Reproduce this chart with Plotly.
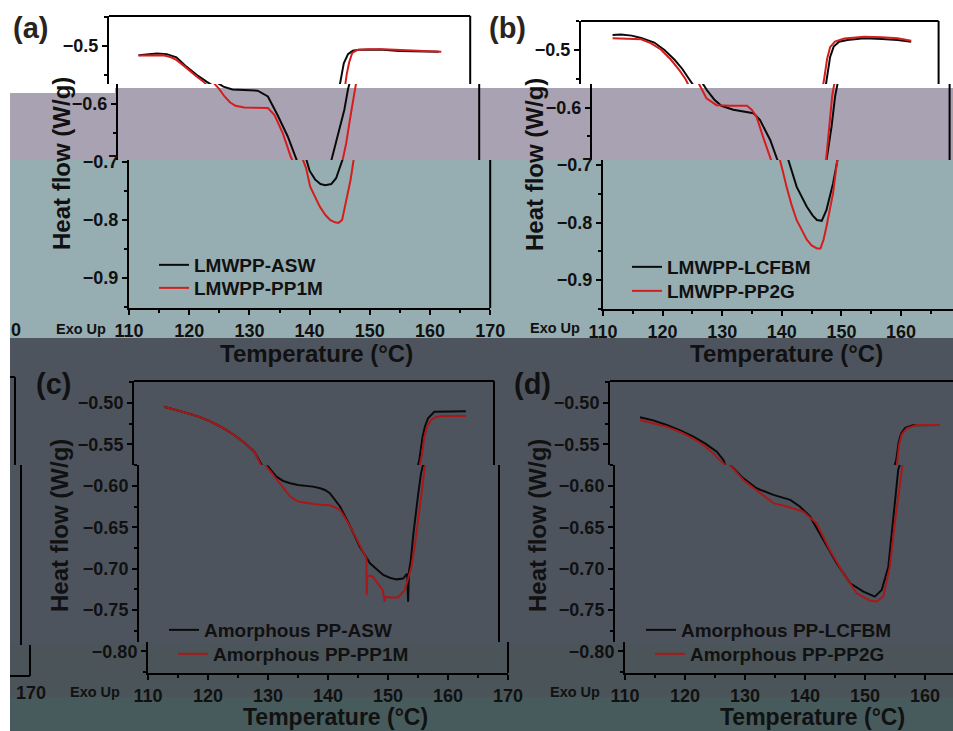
import plotly.graph_objects as go

W, H = 953, 731
FONT = "Liberation Sans, Arial, Helvetica, sans-serif"

# ---------------- data (temperature in degC, heat flow in W/g) ----------------
a_asw_T = [114.9, 116.5, 118.0, 119.6, 121.2, 122.9, 124.6, 126.2, 127.5, 129.0, 131.0, 133.2,
           134.9, 136.5, 138.2, 139.3, 140.0, 140.9, 141.8, 142.6, 143.6, 144.4, 145.0, 145.5,
           146.5, 147.6, 148.2, 148.6, 149.0, 149.7, 150.5, 151.5, 152.7, 155.0, 158.2, 161.5, 164.8]
a_asw_V = [-0.516, -0.514, -0.513, -0.514, -0.5195, -0.536, -0.550, -0.5615, -0.570, -0.575, -0.576, -0.577,
           -0.587, -0.619, -0.656, -0.690, -0.715, -0.730, -0.738, -0.740, -0.738, -0.728, -0.712, -0.695,
           -0.655, -0.610, -0.575, -0.550, -0.530, -0.514, -0.508, -0.5065, -0.506, -0.506, -0.5085, -0.509, -0.510]

a_pp1m_T = [114.9, 117.0, 119.0, 120.2, 121.2, 122.3, 123.5, 124.6, 125.7, 126.8, 127.7, 128.6, 129.5,
            131.0, 133.0, 134.9, 136.0, 137.4, 138.7, 139.4, 140.1, 141.0, 141.7, 142.6, 143.4, 144.2,
            144.8, 145.4, 145.9, 146.4, 146.8, 147.3, 147.9, 148.7, 149.2, 149.5, 149.9, 150.4, 151.2,
            153.0, 155.6, 158.5, 161.2, 165.2]
a_pp1m_V = [-0.5165, -0.516, -0.516, -0.519, -0.524, -0.533, -0.544, -0.553, -0.5615, -0.574, -0.587, -0.597, -0.603,
            -0.606, -0.607, -0.607, -0.619, -0.651, -0.691, -0.710, -0.7425, -0.762, -0.777, -0.791, -0.800, -0.804,
            -0.805, -0.800, -0.777, -0.752, -0.731, -0.697, -0.668, -0.616, -0.570, -0.548, -0.528, -0.512, -0.507,
            -0.5055, -0.5055, -0.507, -0.508, -0.510]

b_lcfbm_T = [115.3, 116.7, 118.5, 120.1, 122.3, 124.0, 125.7, 127.0, 128.3, 129.3, 130.5, 131.7, 133.7,
             135.5, 137.1, 138.2, 139.1, 139.9, 141.0, 142.5, 144.2, 145.2, 145.9, 146.7, 147.5, 148.6,
             149.4, 150.2, 150.8, 151.3, 151.8, 152.4, 153.3, 154.7, 157.5, 160.5, 163.1, 165.4]
b_lcfbm_V = [-0.474, -0.473, -0.475, -0.479, -0.487, -0.500, -0.517, -0.533, -0.553, -0.570, -0.586, -0.597, -0.604,
             -0.607, -0.610, -0.622, -0.640, -0.6565, -0.688, -0.738, -0.7725, -0.788, -0.7957, -0.797, -0.778, -0.732,
             -0.688, -0.633, -0.580, -0.548, -0.512, -0.494, -0.4855, -0.4826, -0.4797, -0.481, -0.4826, -0.4855]

b_pp2g_T = [115.3, 118.0, 120.1, 121.7, 123.4, 125.1, 126.5, 127.5, 128.3, 129.2, 130.9, 132.0, 133.2,
            134.5, 136.0, 136.8, 137.6, 138.7, 139.6, 140.2, 140.8, 141.6, 142.5, 143.4, 144.2, 145.0,
            145.9, 146.5, 147.0, 147.5, 148.0, 148.6, 149.2, 149.7, 150.3, 150.8, 151.3, 151.8, 152.6,
            154.2, 157.5, 160.5, 163.1, 165.4]
b_pp2g_V = [-0.4797, -0.480, -0.4814, -0.488, -0.499, -0.517, -0.535, -0.550, -0.565, -0.584, -0.596, -0.597, -0.597,
            -0.597, -0.597, -0.604, -0.616, -0.651, -0.6855, -0.712, -0.738, -0.768, -0.796, -0.815, -0.830, -0.840,
            -0.845, -0.845, -0.830, -0.807, -0.780, -0.749, -0.700, -0.640, -0.580, -0.550, -0.515, -0.495, -0.4855,
            -0.480, -0.477, -0.478, -0.4797, -0.484]

c_asw_T = [115.05, 117.0, 119.0, 121.0, 122.8, 124.8, 126.7, 128.4, 130.05, 131.3, 132.9, 134.0, 135.2,
           136.5, 137.9, 139.0, 140.2, 141.0, 141.8, 142.6, 143.5, 145.2, 146.8, 148.5, 149.6, 150.7,
           151.8, 152.9, 154.0, 154.7, 154.85, 155.0, 155.3, 155.7, 156.55, 157.0, 157.55, 158.1, 158.5,
           159.0, 160.05, 162.3, 165.3]
c_asw_V = [-0.5045, -0.508, -0.5125, -0.517, -0.5225, -0.530, -0.5386, -0.548, -0.5588, -0.575, -0.589, -0.594, -0.597,
           -0.599, -0.600, -0.601, -0.603, -0.605, -0.609, -0.616, -0.625, -0.649, -0.6735, -0.6936, -0.701, -0.7077,
           -0.711, -0.713, -0.712, -0.706, -0.740, -0.703, -0.690, -0.660, -0.609, -0.585, -0.5688, -0.5407, -0.528,
           -0.5185, -0.5105, -0.5101, -0.5101]

c_pp1m_T = [115.05, 117.0, 119.0, 121.0, 122.8, 124.8, 126.7, 128.4, 130.05, 131.3, 132.4, 133.5, 134.4,
            135.2, 136.55, 138.0, 139.05, 140.5, 141.8, 142.7, 143.5, 145.2, 146.8, 147.9, 147.95, 148.05,
            148.95, 149.8, 150.6, 150.95, 151.05, 151.8, 153.2, 154.3, 155.4, 156.0, 156.55, 157.1, 157.7,
            158.0, 158.4, 158.9, 159.5, 160.3, 161.2, 163.0, 165.3]
c_pp1m_V = [-0.5045, -0.508, -0.5125, -0.517, -0.5225, -0.530, -0.5386, -0.548, -0.5588, -0.577, -0.587, -0.597, -0.606,
            -0.613, -0.619, -0.621, -0.622, -0.623, -0.6236, -0.626, -0.629, -0.649, -0.6715, -0.6876, -0.732, -0.708,
            -0.7097, -0.718, -0.7258, -0.740, -0.734, -0.7349, -0.7349, -0.7258, -0.698, -0.670, -0.6413, -0.609, -0.5728,
            -0.562, -0.5407, -0.528, -0.5205, -0.517, -0.5157, -0.5157, -0.5157]

d_lcfbm_T = [115.0, 117.2, 119.45, 121.7, 123.9, 125.9, 127.8, 128.9, 129.2, 131.4, 133.6, 136.4, 139.2,
             140.8, 142.5, 144.7, 146.95, 149.2, 151.4, 153.3, 154.45, 155.55, 156.4, 157.2, 157.7, 158.1,
             158.5, 159.2, 160.5, 165.0]
d_lcfbm_V = [-0.5173, -0.521, -0.5266, -0.533, -0.5407, -0.549, -0.5588, -0.5688, -0.575, -0.591, -0.603, -0.611, -0.617,
             -0.625, -0.637, -0.6655, -0.6936, -0.7178, -0.7279, -0.7339, -0.7258, -0.698, -0.6413, -0.581, -0.569, -0.548,
             -0.537, -0.530, -0.527, -0.5266]

d_pp2g_T = [115.0, 117.2, 119.45, 121.7, 123.9, 125.6, 127.2, 128.3, 128.9, 131.4, 134.2, 136.4, 138.6,
            141.4, 143.6, 145.8, 148.05, 150.3, 152.5, 153.6, 154.7, 155.8, 156.7, 157.8, 158.2, 158.6,
            159.45, 161.1, 165.0]
d_pp2g_V = [-0.5205, -0.5245, -0.5286, -0.535, -0.543, -0.551, -0.5608, -0.5688, -0.5728, -0.593, -0.609, -0.621, -0.625,
            -0.6313, -0.6453, -0.6775, -0.7057, -0.7298, -0.7388, -0.7398, -0.7339, -0.698, -0.6413, -0.5728, -0.550, -0.538,
            -0.5306, -0.5266, -0.5266]

labels_a = ["LMWPP-ASW", "LMWPP-PP1M"]
labels_b = ["LMWPP-LCFBM", "LMWPP-PP2G"]
labels_c = ["Amorphous PP-ASW", "Amorphous PP-PP1M"]
labels_d = ["Amorphous PP-LCFBM", "Amorphous PP-PP2G"]

# ---------------- helpers ----------------
def fx(p):
    return p / W

def fy(p):
    return 1 - p / H

BLACK = "#0a0a0a"
RED1 = "#d41e1e"
RED2 = "#a81818"
panels = [
    dict(x0=129, ppd=6.02, vref=-0.5, pyref=46, ppv=580,
         bands=[(16, 84, -20), (84, 160, -11), (160, 308, 0)],
         dtick=0.1, minor=0.05, fmt=".1f",
         series=[(a_asw_T, a_asw_V, labels_a[0], BLACK, "legend", (154, 265)),
                 (a_pp1m_T, a_pp1m_V, labels_a[1], RED1, "legend2", (154, 288))]),
    dict(x0=603, ppd=5.96, vref=-0.5, pyref=50, ppv=575,
         bands=[(21, 84, -22), (84, 160, -11), (160, 309, 0)],
         dtick=0.1, minor=0.05, fmt=".1f",
         series=[(b_lcfbm_T, b_lcfbm_V, labels_b[0], BLACK, "legend3", (627, 267)),
                 (b_pp2g_T, b_pp2g_V, labels_b[1], RED1, "legend4", (627, 291))]),
    dict(x0=148, ppd=6.0, vref=-0.5, pyref=403, ppv=828,
         bands=[(381, 465, -14), (465, 642, -9), (642, 673, 0)],
         dtick=0.05, minor=0.025, fmt=".2f",
         series=[(c_asw_T, c_asw_V, labels_c[0], BLACK, "legend5", (164, 630)),
                 (c_pp1m_T, c_pp1m_V, labels_c[1], RED2, "legend6", (173, 654))]),
    dict(x0=625, ppd=6.0, vref=-0.5, pyref=403, ppv=828,
         bands=[(381, 465, -15), (465, 642, -10), (642, 673, 0)],
         dtick=0.05, minor=0.025, fmt=".2f",
         series=[(d_lcfbm_T, d_lcfbm_V, labels_d[0], BLACK, "legend7", (641, 630)),
                 (d_pp2g_T, d_pp2g_V, labels_d[1], RED2, "legend8", (650, 654))]),
]

tickfont = dict(family=FONT, size=18, color="#111111", weight="bold")
layout = dict(width=W, height=H, margin=dict(l=0, r=0, t=0, b=0, pad=0, autoexpand=False),
              paper_bgcolor="white", plot_bgcolor="rgba(0,0,0,0)", showlegend=True)
shapes = []
annotations = []

# background glitch bands
bands_bg = [
    (88, 160, "#a9a2b2"),
    (160, 338, "#96aeb1"),
    (338, 643, "#4e545e"),
    (643, 697, "#4b5559"),
    (697, 731, "#475a5c"),
]
for t, b, c in bands_bg:
    shapes.append(dict(type="rect", xref="paper", yref="paper", x0=fx(10), x1=1, y0=fy(b), y1=fy(t),
                       fillcolor=c, line=dict(width=0), layer="below"))
shapes.append(dict(type="rect", xref="paper", yref="paper", x0=fx(10), x1=fx(115), y0=fy(93), y1=fy(88),
                   fillcolor="white", line=dict(width=0), layer="below"))

fig = go.Figure()
n = 0
for p in panels:
    def val(py, p=p):
        return p["vref"] - (py - p["pyref"]) / p["ppv"]
    nb = len(p["bands"])
    for i, (top, bot, shift) in enumerate(p["bands"]):
        n += 1
        xs = "" if n == 1 else str(n)
        left = p["x0"] + shift
        full_right = left + 60 * p["ppd"]
        right = min(full_right, W)
        t_end = 110 + (right - left) / p["ppd"]
        last = i == nb - 1
        layout["xaxis" + xs] = dict(
            domain=[fx(left), fx(right)], anchor="y" + xs, range=[110, t_end], automargin=False,
            visible=last, showline=last, linecolor="black", linewidth=2, mirror=False,
            ticks="outside", ticklen=5, tickwidth=2, tickcolor="black",
            tick0=110, dtick=10, tickfont=tickfont, showgrid=False, zeroline=False,
            minor=dict(dtick=5, tick0=110, ticks="outside", ticklen=3, tickwidth=1.5, tickcolor="black"),
        )
        layout["yaxis" + xs] = dict(
            domain=[fy(bot), fy(top)], anchor="x" + xs, range=[val(bot), val(top)], automargin=False,
            showline=True, linecolor="black", linewidth=2, mirror=False,
            ticks="outside", ticklen=5, tickwidth=2, tickcolor="black",
            tick0=p["vref"], dtick=p["dtick"], tickformat=p["fmt"], tickfont=tickfont,
            showgrid=False, zeroline=False,
            minor=dict(dtick=p["minor"], tick0=p["vref"], ticks="outside", ticklen=3, tickwidth=1.5,
                       tickcolor="black"),
        )
        if full_right <= W:
            shapes.append(dict(type="line", xref="x" + xs + " domain", yref="y" + xs + " domain",
                               x0=1, x1=1, y0=0, y1=1, line=dict(color="black", width=2)))
        if i == 0:
            shapes.append(dict(type="line", xref="x" + xs + " domain", yref="y" + xs + " domain",
                               x0=0, x1=1, y0=1, y1=1, line=dict(color="black", width=2)))
        for T, V, name, col, leg, _pos in p["series"]:
            fig.add_trace(go.Scatter(x=T, y=V, mode="lines", name=name,
                                     line=dict(color=col, width=2),
                                     xaxis="x" + xs, yaxis="y" + xs,
                                     showlegend=last, legend=leg, hoverinfo="skip"))
    for _T, _V, _name, _col, leg, (lx, ly) in p["series"]:
        layout[leg] = dict(x=fx(lx), y=fy(ly), xanchor="left", yanchor="middle",
                           bgcolor="rgba(0,0,0,0)", borderwidth=0, tracegroupgap=0,
                           font=dict(family=FONT, size=19, color="#111111", weight="bold"))

def ann(text, x, y, size, angle=0, xanchor="center", color="#111111"):
    annotations.append(dict(text=text, x=fx(x), y=fy(y), xref="paper", yref="paper",
                            showarrow=False, xanchor=xanchor, yanchor="middle", textangle=angle,
                            font=dict(family=FONT, size=size, color=color, weight="bold")))

# panel letters
ann("(a)", 11, 28, 29, xanchor="left", color="#2a2420")
ann("(b)", 487, 28, 29, xanchor="left", color="#2a2420")
ann("(c)", 34, 384, 29, xanchor="left", color="#111111")
ann("(d)", 512, 384, 29, xanchor="left", color="#111111")
# y titles
for x, y in [(61, 163), (534, 165), (59, 526), (537, 526)]:
    ann("Heat flow (W/g)", x, y, 24, angle=-90)
# x titles
for x, y in [(316, 353), (786, 353)]:
    ann("Temperature (°C)", x, y, 24)
for x, y in [(335, 717), (812, 717)]:
    ann("Temperature (°C)", x, y, 23)
# Exo Up
for x, y in [(81, 329), (555, 328), (95, 692), (575, 692)]:
    ann("Exo Up", x, y, 14.5)
# wrap-around fragments at the left edge
ann("0", 23, 330, 18, xanchor="right")
ann("170", 31, 693, 18)
for (x0, y0, x1, y1) in [(10, 377, 15, 377), (15, 377, 15, 465), (21, 465, 21, 645),
                         (30, 645, 30, 676), (10, 676, 30, 676)]:
    shapes.append(dict(type="line", xref="paper", yref="paper", x0=fx(x0), x1=fx(x1), y0=fy(y0), y1=fy(y1),
                       line=dict(color="black", width=2)))

layout["shapes"] = shapes
layout["annotations"] = annotations
fig.update_layout(**layout)
fig.write_html("out.html", config={"displayModeBar": False},
               post_script="document.body.style.margin='0px';document.body.style.overflow='hidden';")
